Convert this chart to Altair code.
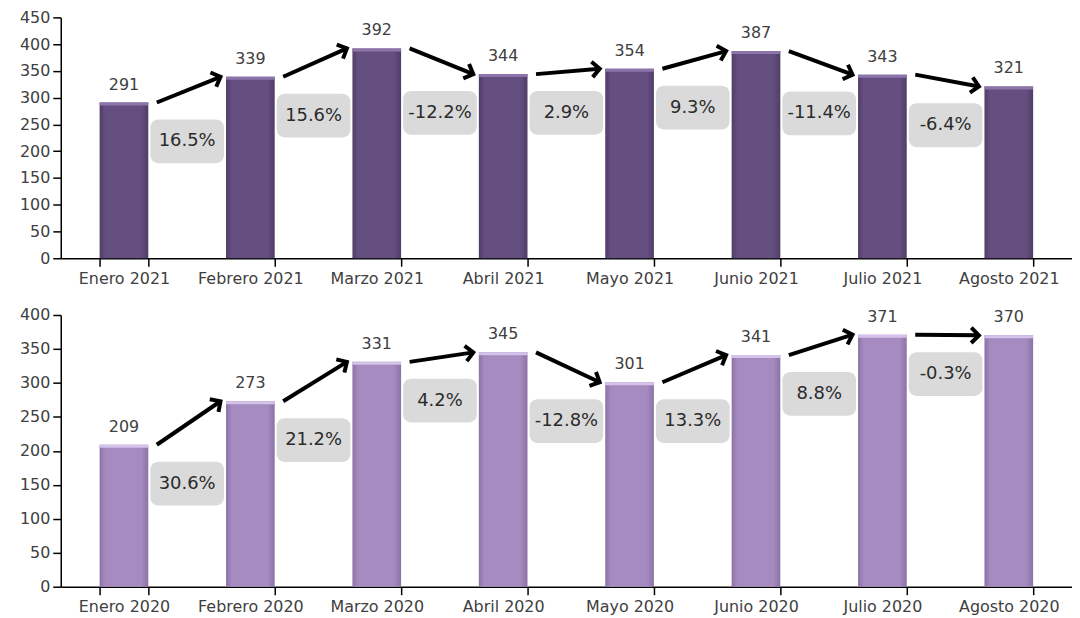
import math
import altair as alt
import pandas as pd

# ---------------- data ----------------
meses_2021 = ["Enero 2021", "Febrero 2021", "Marzo 2021", "Abril 2021",
              "Mayo 2021", "Junio 2021", "Julio 2021", "Agosto 2021"]
valores_2021 = [291, 339, 392, 344, 354, 387, 343, 321]
var_2021 = [16.5, 15.6, -12.2, 2.9, 9.3, -11.4, -6.4]
ticks_2021 = [0, 50, 100, 150, 200, 250, 300, 350, 400, 450]

meses_2020 = ["Enero 2020", "Febrero 2020", "Marzo 2020", "Abril 2020",
              "Mayo 2020", "Junio 2020", "Julio 2020", "Agosto 2020"]
valores_2020 = [209, 273, 331, 345, 301, 341, 371, 370]
var_2020 = [30.6, 21.2, 4.2, -12.8, 13.3, 8.8, -0.3]
ticks_2020 = [0, 50, 100, 150, 200, 250, 300, 350, 400]

# ---------------- layout / style ----------------
W = 1016
H_TOP = 242
H_BOT = 273
STEP = W / 8
ARR_START = 33
ARR_END = 30
BOX_DY = 39
FONT = "DejaVu Sans"
TXT = "#404040"


def panel(meses, valores, variaciones, ticks, H, base, dark, light):
    ymax = ticks[-1]
    df = pd.DataFrame({"mes": meses, "valor": valores})
    pxu = H / ymax
    dx = STEP - ARR_START - ARR_END
    rows = []
    for i, p in enumerate(variaciones):
        v1, v2 = valores[i], valores[i + 1]
        ang = math.degrees(math.atan2(-(v2 - v1) * pxu, dx)) % 360
        rows.append({"mes": meses[i], "sig": meses[i + 1], "v1": v1, "v2": v2,
                     "minv": min(v1, v2), "etq": f"{p:.1f}%", "ang": ang})
    arr = pd.DataFrame(rows)

    xscale = alt.Scale(domain=meses, paddingInner=0.615, paddingOuter=0.3075)
    yscale = alt.Scale(domain=[0, ymax], nice=False)
    yaxis = alt.Axis(values=ticks, tickCount=len(ticks))

    X = alt.X("mes:N", scale=xscale, title=None)

    def Y(field):
        return alt.Y(field, scale=yscale, axis=yaxis, title=None)

    grad = alt.Gradient(gradient="linear", x1=0, x2=1, y1=0, y2=0,
                        stops=[alt.GradientStop(color=dark, offset=0),
                               alt.GradientStop(color=base, offset=0.12),
                               alt.GradientStop(color=base, offset=0.85),
                               alt.GradientStop(color=dark, offset=1)])

    bars = alt.Chart(df).mark_bar(color=grad).encode(x=X, y=Y("valor:Q"))
    tops = alt.Chart(df).mark_bar(color=light, y2Offset=3).encode(
        x=X, y=Y("valor:Q"), y2="valor:Q")
    vals = alt.Chart(df).mark_text(dy=-10, baseline="bottom", fontSize=16,
                                   color=TXT, font=FONT).encode(
        x=X, y=Y("valor:Q"), text="valor:Q")

    rule = alt.Chart(arr).mark_rule(color="#000", strokeWidth=4,
                                    xOffset=ARR_START, x2Offset=-ARR_END).encode(
        x=X, x2="sig:N", y=Y("v1:Q"), y2="v2:Q")
    head = alt.Chart(arr).mark_point(
        shape="M-1,-1L0,0L-1,1", filled=False, stroke="#000", strokeWidth=4,
        size=240, opacity=1, xOffset=-ARR_END, strokeJoin="miter").encode(
        x=alt.X("sig:N", scale=xscale, title=None), y=Y("v2:Q"),
        angle=alt.Angle("ang:Q", scale=None))
    box = alt.Chart(arr).mark_bar(
        width=74, xOffset=STEP / 2, yOffset=BOX_DY - 22, y2Offset=BOX_DY + 22,
        cornerRadius=8, color="#dadada").encode(
        x=X, y=Y("minv:Q"), y2="minv:Q")
    pct = alt.Chart(arr).mark_text(
        dx=STEP / 2, dy=BOX_DY, baseline="middle", fontSize=18, color="#2b2b2b",
        font=FONT).encode(x=X, y=Y("minv:Q"), text="etq:N")

    return alt.layer(bars, tops, vals, box, pct, rule, head).properties(
        width=W, height=H)


top = panel(meses_2021, valores_2021, var_2021, ticks_2021, H_TOP,
            "#654f80", "#4f3d66", "#8d75ab")
bot = panel(meses_2020, valores_2020, var_2020, ticks_2020, H_BOT,
            "#a58bbf", "#8c73a6", "#d4c2ea")

chart = alt.vconcat(top, bot, spacing=21).properties(
    padding={"left": 3, "top": 0, "right": 0, "bottom": 0}
).configure_view(stroke=None).configure_axis(
    domainColor="#000", tickColor="#000", labelFontSize=16, labelColor=TXT,
    labelFont=FONT, tickSize=8, domainWidth=1.5, tickWidth=1.5, grid=False,
    labelOverlap=False
).configure_axisX(
    labelAngle=0, tickBand="extent", labelPadding=4
).configure_axisY(
    labelPadding=3, minExtent=50, maxExtent=50
)

chart.save("out.html", embed_options={"renderer": "svg", "actions": False})
